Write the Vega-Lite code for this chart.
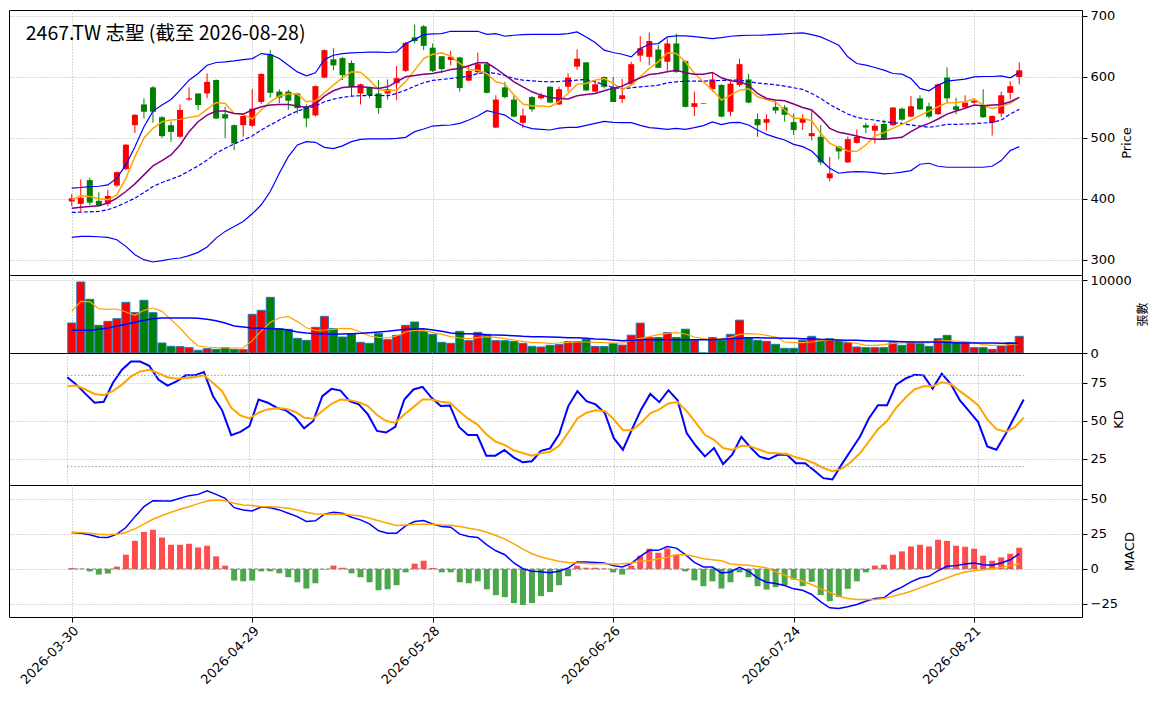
{
  "$schema": "https://vega.github.io/schema/vega-lite/v6.json",
  "padding": {"left": 8, "top": 9, "right": 0, "bottom": 0},
  "background": "white",
  "spacing": 0,
  "bounds": "flush",
  "config": {
    "view": {"stroke": "black", "strokeWidth": 1},
    "font": "DejaVu Sans",
    "axis": {
      "labelFont": "DejaVu Sans", "titleFont": "DejaVu Sans", "labelFontSize": 13, "titleFontSize": 13,
      "titleFontWeight": "normal", "labelColor": "black", "titleColor": "black", "tickColor": "black",
      "gridColor": "#b0b0b0", "gridDash": [1, 2], "gridWidth": 1, "domain": false
    }
  },
  "data": {"values": [
    {"i":0,"o":396,"h":408,"l":388,"c":401,"v":4110,"vm5":5708,"vm20":3105,"ma5":398.6,"ma10":385.0,"mid":377.9,"up":417.7,"lo":337.0,"k":78.7,"d":72.8,"dif":26.1,"dea":26.1,"hist":0.7},
    {"i":1,"o":392,"h":432,"l":380,"c":402,"v":9726,"vm5":7078,"vm20":3105,"ma5":405.2,"ma10":386.6,"mid":378.5,"up":418.8,"lo":338.7,"k":73.9,"d":73.3,"dif":25.6,"dea":26.1,"hist":0.2},
    {"i":2,"o":431,"h":435,"l":390,"c":394,"v":7352,"vm5":7032,"vm20":3105,"ma5":404.1,"ma10":387.7,"mid":379.0,"up":420.4,"lo":338.7,"k":67.8,"d":70.7,"dif":24.4,"dea":25.6,"hist":-1.7},
    {"i":3,"o":397,"h":411,"l":387,"c":389,"v":3790,"vm5":6073,"vm20":3242,"ma5":400.3,"ma10":388.8,"mid":379.6,"up":420.9,"lo":338.1,"k":62.0,"d":67.8,"dif":22.7,"dea":24.9,"hist":-4.0},
    {"i":4,"o":392,"h":415,"l":388,"c":405,"v":4338,"vm5":5982,"vm20":3425,"ma5":398.6,"ma10":393.2,"mid":382.3,"up":423.1,"lo":337.0,"k":62.6,"d":67.0,"dif":22.5,"dea":24.4,"hist":-3.3},
    {"i":5,"o":422,"h":445,"l":420,"c":444,"v":4703,"vm5":6027,"vm20":3699,"ma5":406.8,"ma10":401.4,"mid":387.7,"up":434.1,"lo":333.2,"k":75.0,"d":69.6,"dif":24.9,"dea":24.9,"hist":1.7},
    {"i":6,"o":449,"h":490,"l":447,"c":489,"v":6941,"vm5":5616,"vm20":3927,"ma5":434.1,"ma10":412.3,"mid":394.3,"up":455.9,"lo":322.3,"k":83.7,"d":73.9,"dif":29.6,"dea":26.1,"hist":10.2},
    {"i":7,"o":521,"h":539,"l":508,"c":538,"v":5525,"vm5":5160,"vm20":4201,"ma5":469.5,"ma10":424.8,"mid":401.4,"up":485.8,"lo":308.6,"k":89.1,"d":79.3,"dif":37.4,"dea":28.7,"hist":20.1},
    {"i":8,"o":555,"h":565,"l":532,"c":543,"v":7215,"vm5":5845,"vm20":4475,"ma5":499.5,"ma10":439.5,"mid":410.6,"up":518.5,"lo":300.5,"k":89.1,"d":82.6,"dif":44.5,"dea":32.0,"hist":26.5},
    {"i":9,"o":583,"h":585,"l":525,"c":543,"v":5525,"vm5":6164,"vm20":4703,"ma5":515.8,"ma10":454.2,"mid":420.4,"up":544.1,"lo":296.7,"k":86.3,"d":83.7,"dif":48.8,"dea":35.5,"hist":28.0},
    {"i":10,"o":534,"h":536,"l":500,"c":503,"v":1370,"vm5":5708,"vm20":4795,"ma5":526.7,"ma10":462.9,"mid":427.0,"up":554.0,"lo":298.9,"k":77.2,"d":81.5,"dif":48.6,"dea":38.2,"hist":22.5},
    {"i":11,"o":521,"h":527,"l":494,"c":510,"v":913,"vm5":4566,"vm20":4795,"ma5":529.4,"ma10":472.2,"mid":432.4,"up":563.2,"lo":301.6,"k":73.3,"d":78.7,"dif":48.6,"dea":40.5,"hist":17.3},
    {"i":12,"o":502,"h":555,"l":500,"c":546,"v":868,"vm5":3425,"vm20":4795,"ma5":530.5,"ma10":488.6,"mid":437.9,"up":578.5,"lo":303.3,"k":76.1,"d":77.8,"dif":50.5,"dea":42.7,"hist":17.3},
    {"i":13,"o":563,"h":583,"l":561,"c":565,"v":731,"vm5":2055,"vm20":4795,"ma5":533.8,"ma10":510.4,"mid":446.0,"up":594.8,"lo":307.1,"k":80.0,"d":78.3,"dif":52.4,"dea":44.5,"hist":18.0},
    {"i":14,"o":573,"h":573,"l":546,"c":554,"v":365,"vm5":959,"vm20":4749,"ma5":536.0,"ma10":526.7,"mid":454.2,"up":605.7,"lo":312.5,"k":80.0,"d":78.7,"dif":53.3,"dea":46.7,"hist":15.4},
    {"i":15,"o":573,"h":606,"l":565,"c":592,"v":594,"vm5":822,"vm20":4612,"ma5":546.9,"ma10":537.6,"mid":464.0,"up":619.3,"lo":321.3,"k":82.2,"d":80.0,"dif":55.9,"dea":48.6,"hist":16.6},
    {"i":16,"o":595,"h":596,"l":531,"c":532,"v":502,"vm5":731,"vm20":4429,"ma5":558.3,"ma10":544.1,"mid":474.9,"up":623.7,"lo":335.9,"k":66.3,"d":75.0,"dif":53.3,"dea":49.3,"hist":9.0},
    {"i":17,"o":539,"h":551,"l":500,"c":532,"v":731,"vm5":685,"vm20":4110,"ma5":556.7,"ma10":544.1,"mid":483.1,"up":624.8,"lo":346.9,"k":57.0,"d":69.6,"dif":50.5,"dea":48.8,"hist":2.4},
    {"i":18,"o":521,"h":522,"l":480,"c":491,"v":502,"vm5":685,"vm20":3699,"ma5":540.3,"ma10":540.3,"mid":490.2,"up":626.4,"lo":355.0,"k":40.7,"d":58.7,"dif":43.8,"dea":46.9,"hist":-8.3},
    {"i":19,"o":521,"h":537,"l":502,"c":536,"v":457,"vm5":685,"vm20":3562,"ma5":538.7,"ma10":539.2,"mid":496.7,"up":628.6,"lo":363.2,"k":42.8,"d":53.7,"dif":42.2,"dea":45.7,"hist":-8.8},
    {"i":20,"o":520,"h":580,"l":518,"c":548,"v":5297,"vm5":1700,"vm20":3425,"ma5":531.1,"ma10":545.8,"mid":503.3,"up":630.2,"lo":375.7,"k":46.7,"d":51.7,"dif":41.5,"dea":45.3,"hist":-8.3},
    {"i":21,"o":559,"h":606,"l":556,"c":605,"v":5845,"vm5":3000,"vm20":3379,"ma5":545.8,"ma10":551.2,"mid":513.1,"up":638.4,"lo":390.5,"k":64.1,"d":55.4,"dif":44.3,"dea":44.5,"hist":-1.7},
    {"i":22,"o":637,"h":644,"l":566,"c":574,"v":7626,"vm5":4200,"vm20":3333,"ma5":559.4,"ma10":553.9,"mid":521.3,"up":636.8,"lo":412.3,"k":62.0,"d":57.6,"dif":43.8,"dea":44.5,"hist":-1.7},
    {"i":23,"o":576,"h":580,"l":557,"c":566,"v":3333,"vm5":4800,"vm20":3288,"ma5":568.7,"ma10":555.0,"mid":529.4,"up":630.2,"lo":442.2,"k":58.7,"d":58.3,"dif":42.2,"dea":44.1,"hist":-3.1},
    {"i":24,"o":576,"h":579,"l":546,"c":561,"v":3242,"vm5":5000,"vm20":3150,"ma5":571.9,"ma10":555.0,"mid":537.1,"up":619.3,"lo":469.5,"k":57.0,"d":58.0,"dif":39.8,"dea":43.4,"hist":-5.9},
    {"i":25,"o":573,"h":574,"l":540,"c":549,"v":2009,"vm5":4300,"vm20":2877,"ma5":571.9,"ma10":552.3,"mid":544.1,"up":608.4,"lo":488.6,"k":52.6,"d":56.1,"dif":37.4,"dea":42.2,"hist":-9.5},
    {"i":26,"o":552,"h":555,"l":518,"c":532,"v":1735,"vm5":3450,"vm20":2740,"ma5":559.4,"ma10":550.1,"mid":548.5,"up":601.9,"lo":494.0,"k":45.2,"d":52.2,"dif":33.9,"dea":40.5,"hist":-14.0},
    {"i":27,"o":537,"h":586,"l":535,"c":585,"v":3516,"vm5":3105,"vm20":2648,"ma5":561.0,"ma10":555.6,"mid":552.3,"up":606.8,"lo":492.9,"k":50.0,"d":51.5,"dif":34.4,"dea":39.3,"hist":-10.2},
    {"i":28,"o":599,"h":645,"l":598,"c":644,"v":5023,"vm5":3150,"vm20":2603,"ma5":574.1,"ma10":568.7,"mid":559.4,"up":628.6,"lo":484.7,"k":66.3,"d":56.5,"dif":39.1,"dea":39.1,"hist":-0.3},
    {"i":29,"o":629,"h":647,"l":611,"c":619,"v":3333,"vm5":3242,"vm20":2557,"ma5":586.7,"ma10":577.4,"mid":563.8,"up":635.7,"lo":482.6,"k":71.1,"d":61.3,"dif":40.5,"dea":39.3,"hist":2.4},
    {"i":30,"o":631,"h":633,"l":595,"c":603,"v":2192,"vm5":3379,"vm20":2603,"ma5":598.6,"ma10":582.8,"mid":566.5,"up":638.4,"lo":487.0,"k":70.0,"d":64.1,"dif":39.8,"dea":39.1,"hist":0.9},
    {"i":31,"o":623,"h":627,"l":568,"c":583,"v":2648,"vm5":3333,"vm20":2648,"ma5":608.4,"ma10":583.9,"mid":568.7,"up":639.5,"lo":494.0,"k":63.0,"d":63.7,"dif":37.0,"dea":38.6,"hist":-3.1},
    {"i":32,"o":573,"h":589,"l":555,"c":588,"v":1461,"vm5":2877,"vm20":2694,"ma5":607.9,"ma10":583.9,"mid":569.2,"up":640.1,"lo":497.8,"k":60.9,"d":62.4,"dif":35.1,"dea":37.9,"hist":-5.9},
    {"i":33,"o":583,"h":584,"l":565,"c":570,"v":1324,"vm5":2329,"vm20":2785,"ma5":594.8,"ma10":582.8,"mid":569.8,"up":640.6,"lo":498.4,"k":54.3,"d":59.8,"dif":32.2,"dea":36.3,"hist":-9.5},
    {"i":34,"o":573,"h":595,"l":540,"c":549,"v":2648,"vm5":2146,"vm20":2877,"ma5":579.6,"ma10":581.2,"mid":569.8,"up":640.6,"lo":498.4,"k":43.5,"d":53.9,"dif":27.3,"dea":34.4,"hist":-15.2},
    {"i":35,"o":573,"h":596,"l":563,"c":580,"v":1826,"vm5":2055,"vm20":2968,"ma5":577.4,"ma10":583.9,"mid":569.2,"up":640.1,"lo":498.4,"k":42.4,"d":50.0,"dif":25.6,"dea":32.7,"hist":-14.5},
    {"i":36,"o":590,"h":618,"l":562,"c":598,"v":2420,"vm5":2329,"vm20":3105,"ma5":578.5,"ma10":592.1,"mid":573.0,"up":641.1,"lo":499.5,"k":46.1,"d":48.9,"dif":25.6,"dea":31.0,"hist":-11.6},
    {"i":37,"o":610,"h":657,"l":608,"c":656,"v":3790,"vm5":2877,"vm20":3242,"ma5":592.1,"ma10":600.3,"mid":578.5,"up":654.8,"lo":501.1,"k":64.1,"d":54.3,"dif":30.8,"dea":31.5,"hist":-2.4},
    {"i":38,"o":665,"h":686,"l":655,"c":659,"v":4247,"vm5":3105,"vm20":3288,"ma5":611.2,"ma10":602.5,"mid":585.0,"up":661.3,"lo":510.4,"k":70.7,"d":59.1,"dif":33.9,"dea":32.0,"hist":3.8},
    {"i":39,"o":683,"h":685,"l":644,"c":651,"v":2968,"vm5":3105,"vm20":3333,"ma5":630.2,"ma10":604.6,"mid":590.5,"up":669.5,"lo":514.7,"k":72.4,"d":64.1,"dif":34.6,"dea":32.0,"hist":5.9},
    {"i":40,"o":648,"h":655,"l":608,"c":610,"v":2557,"vm5":2785,"vm20":3150,"ma5":637.3,"ma10":605.7,"mid":594.3,"up":670.6,"lo":519.6,"k":65.2,"d":64.1,"dif":32.2,"dea":32.0,"hist":0.7},
    {"i":41,"o":634,"h":634,"l":606,"c":613,"v":1461,"vm5":2557,"vm20":2968,"ma5":639.5,"ma10":608.4,"mid":595.9,"up":671.1,"lo":520.7,"k":59.8,"d":62.6,"dif":30.3,"dea":31.5,"hist":-2.4},
    {"i":42,"o":628,"h":643,"l":619,"c":633,"v":1324,"vm5":2237,"vm20":2740,"ma5":634.1,"ma10":612.3,"mid":597.5,"up":674.9,"lo":521.3,"k":60.2,"d":62.0,"dif":29.9,"dea":31.3,"hist":-2.4},
    {"i":43,"o":632,"h":633,"l":576,"c":582,"v":2968,"vm5":2055,"vm20":2648,"ma5":622.1,"ma10":613.9,"mid":599.2,"up":674.9,"lo":524.0,"k":46.1,"d":56.5,"dif":24.9,"dea":30.3,"hist":-9.5},
    {"i":44,"o":594,"h":619,"l":593,"c":610,"v":1689,"vm5":1963,"vm20":2648,"ma5":612.3,"ma10":618.3,"mid":601.4,"up":674.9,"lo":529.4,"k":40.7,"d":51.5,"dif":23.2,"dea":29.1,"hist":-10.2},
    {"i":45,"o":608,"h":640,"l":605,"c":621,"v":2831,"vm5":2100,"vm20":2603,"ma5":611.2,"ma10":623.2,"mid":605.7,"up":674.9,"lo":536.0,"k":40.7,"d":47.8,"dif":22.5,"dea":28.0,"hist":-8.8},
    {"i":46,"o":621,"h":625,"l":573,"c":574,"v":2557,"vm5":2237,"vm20":2511,"ma5":605.7,"ma10":623.2,"mid":607.4,"up":670.0,"lo":544.7,"k":27.2,"d":41.3,"dif":17.3,"dea":26.3,"hist":-14.5},
    {"i":47,"o":517,"h":570,"l":516,"c":563,"v":1689,"vm5":2146,"vm20":2466,"ma5":592.1,"ma10":613.9,"mid":605.7,"up":671.1,"lo":541.4,"k":27.2,"d":36.5,"dif":13.0,"dea":23.9,"hist":-18.7},
    {"i":48,"o":583,"h":592,"l":565,"c":567,"v":1689,"vm5":1963,"vm20":2420,"ma5":588.3,"ma10":603.0,"mid":602.5,"up":666.8,"lo":537.6,"k":30.9,"d":34.3,"dif":10.2,"dea":21.3,"hist":-20.1},
    {"i":49,"o":563,"h":570,"l":534,"c":535,"v":1598,"vm5":1781,"vm20":2374,"ma5":570.3,"ma10":592.1,"mid":597.5,"up":668.4,"lo":527.8,"k":26.1,"d":30.7,"dif":4.3,"dea":18.0,"hist":-24.4},
    {"i":50,"o":525,"h":548,"l":516,"c":537,"v":1324,"vm5":1598,"vm20":2283,"ma5":555.6,"ma10":583.9,"mid":594.8,"up":669.5,"lo":519.6,"k":22.8,"d":28.9,"dif":0.2,"dea":14.2,"hist":-25.8},
    {"i":51,"o":567,"h":569,"l":543,"c":547,"v":913,"vm5":1416,"vm20":2237,"ma5":552.3,"ma10":575.7,"mid":593.7,"up":670.0,"lo":515.3,"k":23.5,"d":27.2,"dif":-1.7,"dea":10.9,"hist":-24.4},
    {"i":52,"o":565,"h":574,"l":563,"c":570,"v":822,"vm5":1415,"vm20":2237,"ma5":552.3,"ma10":570.3,"mid":592.6,"up":670.0,"lo":514.2,"k":30.4,"d":28.7,"dif":-1.9,"dea":8.6,"hist":-19.4},
    {"i":53,"o":584,"h":585,"l":557,"c":558,"v":1050,"vm5":1324,"vm20":2192,"ma5":551.2,"ma10":566.5,"mid":592.1,"up":670.0,"lo":513.1,"k":32.0,"d":29.8,"dif":-2.6,"dea":7.0,"hist":-16.5},
    {"i":54,"o":555,"h":584,"l":554,"c":580,"v":1150,"vm5":1370,"vm20":2146,"ma5":559.4,"ma10":564.8,"mid":592.6,"up":670.0,"lo":516.3,"k":41.3,"d":33.7,"dif":-1.7,"dea":5.5,"hist":-11.6},
    {"i":55,"o":584,"h":606,"l":576,"c":599,"v":1550,"vm5":1461,"vm20":2100,"ma5":573.0,"ma10":563.8,"mid":593.7,"up":671.1,"lo":517.4,"k":59.8,"d":42.4,"dif":0.7,"dea":4.7,"hist":-5.2},
    {"i":56,"o":617,"h":645,"l":612,"c":630,"v":1550,"vm5":1507,"vm20":2100,"ma5":588.3,"ma10":569.2,"mid":594.8,"up":673.8,"lo":517.4,"k":69.6,"d":51.7,"dif":5.0,"dea":4.3,"hist":2.4},
    {"i":57,"o":624,"h":624,"l":577,"c":578,"v":1850,"vm5":1507,"vm20":2009,"ma5":589.4,"ma10":571.4,"mid":595.9,"up":665.7,"lo":520.7,"k":63.0,"d":55.4,"dif":5.0,"dea":4.0,"hist":0.9},
    {"i":58,"o":576,"h":594,"l":575,"c":588,"v":900,"vm5":1461,"vm20":1918,"ma5":594.8,"ma10":573.0,"mid":592.1,"up":656.4,"lo":524.0,"k":60.9,"d":57.0,"dif":4.7,"dea":3.8,"hist":0.9},
    {"i":59,"o":600,"h":601,"l":581,"c":584,"v":900,"vm5":1415,"vm20":1872,"ma5":597.5,"ma10":577.4,"mid":587.2,"up":643.9,"lo":527.2,"k":55.4,"d":56.5,"dif":4.3,"dea":3.8,"hist":0.3},
    {"i":60,"o":583,"h":600,"l":559,"c":559,"v":1300,"vm5":1370,"vm20":1781,"ma5":589.4,"ma10":581.7,"mid":582.8,"up":640.1,"lo":525.6,"k":38.7,"d":51.1,"dif":2.4,"dea":3.6,"hist":-2.4},
    {"i":61,"o":564,"h":597,"l":557,"c":570,"v":1080,"vm5":1370,"vm20":1689,"ma5":579.6,"ma10":585.0,"mid":580.1,"up":637.3,"lo":525.1,"k":31.1,"d":43.9,"dif":1.4,"dea":3.8,"hist":-4.0},
    {"i":62,"o":588,"h":625,"l":587,"c":621,"v":2440,"vm5":1735,"vm20":1735,"ma5":586.7,"ma10":592.1,"mid":582.3,"up":633.0,"lo":525.1,"k":44.6,"d":43.9,"dif":3.8,"dea":4.3,"hist":2.4},
    {"i":63,"o":635,"h":667,"l":625,"c":647,"v":4090,"vm5":2009,"vm20":1826,"ma5":600.3,"ma10":598.6,"mid":583.9,"up":646.6,"lo":520.7,"k":57.6,"d":48.9,"dif":9.0,"dea":5.5,"hist":9.5},
    {"i":64,"o":633,"h":673,"l":619,"c":659,"v":2120,"vm5":2237,"vm20":1826,"ma5":613.9,"ma10":604.1,"mid":585.0,"up":653.7,"lo":516.9,"k":67.8,"d":55.0,"dif":13.3,"dea":5.9,"hist":14.5},
    {"i":65,"o":645,"h":652,"l":615,"c":615,"v":2120,"vm5":2511,"vm20":1826,"ma5":624.8,"ma10":605.7,"mid":586.7,"up":654.8,"lo":515.8,"k":62.4,"d":57.6,"dif":13.3,"dea":7.3,"hist":11.6},
    {"i":66,"o":625,"h":663,"l":610,"c":655,"v":2800,"vm5":2694,"vm20":1826,"ma5":639.5,"ma10":608.4,"mid":590.5,"up":665.7,"lo":514.2,"k":70.2,"d":61.5,"dif":16.1,"dea":8.3,"hist":14.7},
    {"i":67,"o":655,"h":671,"l":607,"c":608,"v":2120,"vm5":2785,"vm20":1826,"ma5":638.4,"ma10":611.2,"mid":592.1,"up":667.3,"lo":515.8,"k":63.7,"d":62.4,"dif":14.9,"dea":10.2,"hist":10.2},
    {"i":68,"o":626,"h":627,"l":550,"c":551,"v":3260,"vm5":2603,"vm20":1826,"ma5":624.8,"ma10":606.8,"mid":593.2,"up":667.3,"lo":514.2,"k":42.0,"d":56.5,"dif":10.2,"dea":10.2,"hist":-1.7},
    {"i":69,"o":551,"h":576,"l":536,"c":557,"v":1760,"vm5":2192,"vm20":1826,"ma5":605.7,"ma10":604.6,"mid":593.2,"up":666.2,"lo":516.9,"k":33.7,"d":48.9,"dif":4.7,"dea":9.0,"hist":-8.1},
    {"i":70,"o":557,"h":557,"l":556,"c":556,"v":0,"vm5":1963,"vm20":1826,"ma5":592.1,"ma10":604.6,"mid":593.2,"up":664.6,"lo":520.2,"k":26.7,"d":40.9,"dif":1.4,"dea":7.3,"hist":-12.3},
    {"i":71,"o":580,"h":606,"l":576,"c":596,"v":2120,"vm5":1826,"vm20":1826,"ma5":578.5,"ma10":607.4,"mid":593.7,"up":662.9,"lo":526.2,"k":32.2,"d":37.6,"dif":1.4,"dea":6.6,"hist":-8.8},
    {"i":72,"o":587,"h":588,"l":534,"c":535,"v":1760,"vm5":1963,"vm20":1872,"ma5":562.1,"ma10":598.6,"mid":594.3,"up":664.6,"lo":521.8,"k":21.7,"d":32.2,"dif":-2.8,"dea":5.9,"hist":-14.0},
    {"i":73,"o":543,"h":593,"l":536,"c":589,"v":2557,"vm5":2146,"vm20":1963,"ma5":570.3,"ma10":593.7,"mid":594.8,"up":666.8,"lo":525.1,"k":27.8,"d":30.9,"dif":-2.1,"dea":3.6,"hist":-9.5},
    {"i":74,"o":587,"h":630,"l":584,"c":621,"v":4500,"vm5":2557,"vm20":2009,"ma5":578.5,"ma10":592.1,"mid":594.8,"up":667.8,"lo":525.6,"k":39.6,"d":33.7,"dif":1.2,"dea":3.1,"hist":-2.4},
    {"i":75,"o":596,"h":605,"l":557,"c":558,"v":2100,"vm5":2648,"vm20":2100,"ma5":580.7,"ma10":586.7,"mid":592.6,"up":668.4,"lo":521.3,"k":32.6,"d":33.3,"dif":-1.7,"dea":2.6,"hist":-5.9},
    {"i":76,"o":531,"h":540,"l":502,"c":521,"v":1735,"vm5":2603,"vm20":2100,"ma5":567.6,"ma10":573.0,"mid":589.9,"up":668.4,"lo":513.1,"k":26.5,"d":31.1,"dif":-6.4,"dea":1.7,"hist":-12.3},
    {"i":77,"o":525,"h":539,"l":512,"c":531,"v":1598,"vm5":2420,"vm20":2055,"ma5":563.2,"ma10":564.8,"mid":588.8,"up":668.9,"lo":506.0,"k":24.8,"d":28.9,"dif":-9.5,"dea":0.7,"hist":-14.7},
    {"i":78,"o":551,"h":562,"l":540,"c":545,"v":1187,"vm5":2192,"vm20":2055,"ma5":558.9,"ma10":562.1,"mid":587.2,"up":670.0,"lo":501.1,"k":27.8,"d":28.7,"dif":-10.4,"dea":-2.1,"hist":-13.0},
    {"i":79,"o":550,"h":554,"l":527,"c":538,"v":639,"vm5":1507,"vm20":2009,"ma5":545.8,"ma10":561.0,"mid":585.0,"up":670.6,"lo":496.7,"k":27.8,"d":28.3,"dif":-11.8,"dea":-4.5,"hist":-11.6},
    {"i":80,"o":526,"h":540,"l":505,"c":513,"v":639,"vm5":1415,"vm20":2009,"ma5":532.2,"ma10":555.6,"mid":582.3,"up":671.7,"lo":489.6,"k":22.2,"d":26.1,"dif":-14.2,"dea":-6.9,"hist":-7.6},
    {"i":81,"o":525,"h":539,"l":513,"c":532,"v":1735,"vm5":1415,"vm20":1963,"ma5":532.2,"ma10":550.1,"mid":579.6,"up":672.2,"lo":485.8,"k":22.2,"d":24.6,"dif":-15.2,"dea":-8.8,"hist":-12.3},
    {"i":82,"o":503,"h":546,"l":496,"c":508,"v":2283,"vm5":1507,"vm20":1963,"ma5":528.3,"ma10":545.8,"mid":573.0,"up":669.5,"lo":478.7,"k":17.4,"d":22.2,"dif":-18.2,"dea":-11.1,"hist":-9.2},
    {"i":83,"o":502,"h":521,"l":456,"c":460,"v":1735,"vm5":1689,"vm20":1872,"ma5":507.6,"ma10":532.2,"mid":564.8,"up":665.7,"lo":464.0,"k":12.4,"d":19.1,"dif":-23.5,"dea":-14.2,"hist":-18.7},
    {"i":84,"o":434,"h":469,"l":429,"c":442,"v":1963,"vm5":1735,"vm20":1826,"ma5":491.3,"ma10":515.8,"mid":555.0,"up":659.1,"lo":450.4,"k":11.5,"d":17.0,"dif":-27.7,"dea":-16.6,"hist":-23.0},
    {"i":85,"o":486,"h":487,"l":465,"c":478,"v":1735,"vm5":1735,"vm20":1781,"ma5":484.7,"ma10":509.3,"mid":546.9,"up":652.0,"lo":442.2,"k":21.3,"d":18.5,"dif":-28.2,"dea":-19.4,"hist":-20.1},
    {"i":86,"o":460,"h":502,"l":459,"c":498,"v":1416,"vm5":1507,"vm20":1735,"ma5":478.7,"ma10":506.5,"mid":539.2,"up":633.0,"lo":443.9,"k":30.4,"d":22.8,"dif":-27.0,"dea":-21.1,"hist":-14.2},
    {"i":87,"o":492,"h":514,"l":491,"c":502,"v":822,"vm5":1324,"vm20":1735,"ma5":477.7,"ma10":503.3,"mid":533.8,"up":622.1,"lo":445.0,"k":39.4,"d":28.6,"dif":-25.4,"dea":-21.8,"hist":-8.8},
    {"i":88,"o":521,"h":525,"l":508,"c":517,"v":731,"vm5":1050,"vm20":1689,"ma5":488.6,"ma10":499.5,"mid":531.1,"up":619.3,"lo":444.4,"k":51.6,"d":36.5,"dif":-23.0,"dea":-21.8,"hist":-2.4},
    {"i":89,"o":512,"h":524,"l":491,"c":520,"v":731,"vm5":1050,"vm20":1644,"ma5":503.3,"ma10":497.8,"mid":529.4,"up":615.5,"lo":443.3,"k":60.4,"d":44.6,"dif":-21.1,"dea":-21.8,"hist":2.4},
    {"i":90,"o":523,"h":530,"l":497,"c":498,"v":731,"vm5":1142,"vm20":1644,"ma5":508.7,"ma10":497.8,"mid":526.7,"up":611.2,"lo":441.1,"k":60.4,"d":50.0,"dif":-20.6,"dea":-21.1,"hist":3.1},
    {"i":91,"o":521,"h":550,"l":520,"c":550,"v":1416,"vm5":1324,"vm20":1598,"ma5":515.8,"ma10":499.5,"mid":525.1,"up":605.7,"lo":442.2,"k":73.9,"d":58.7,"dif":-15.9,"dea":-19.4,"hist":10.2},
    {"i":92,"o":548,"h":550,"l":528,"c":530,"v":1050,"vm5":1370,"vm20":1552,"ma5":522.3,"ma10":501.1,"mid":524.0,"up":604.6,"lo":443.9,"k":77.8,"d":65.2,"dif":-13.0,"dea":-17.8,"hist":12.6},
    {"i":93,"o":535,"h":569,"l":534,"c":552,"v":1507,"vm5":1415,"vm20":1507,"ma5":529.4,"ma10":510.4,"mid":521.3,"up":597.5,"lo":446.6,"k":80.4,"d":70.7,"dif":-9.2,"dea":-15.9,"hist":16.1},
    {"i":94,"o":565,"h":570,"l":546,"c":547,"v":1279,"vm5":1415,"vm20":1507,"ma5":537.1,"ma10":518.5,"mid":519.6,"up":581.2,"lo":457.0,"k":80.0,"d":72.8,"dif":-6.4,"dea":-13.5,"hist":17.3},
    {"i":95,"o":552,"h":558,"l":532,"c":535,"v":913,"vm5":1370,"vm20":1507,"ma5":544.1,"ma10":524.0,"mid":517.4,"up":577.4,"lo":458.6,"k":71.3,"d":72.8,"dif":-5.2,"dea":-11.1,"hist":16.1},
    {"i":96,"o":539,"h":589,"l":538,"c":588,"v":1963,"vm5":1644,"vm20":1507,"ma5":551.2,"ma10":531.1,"mid":519.6,"up":586.7,"lo":453.7,"k":81.1,"d":75.4,"dif":-1.2,"dea":-8.8,"hist":20.9},
    {"i":97,"o":599,"h":616,"l":559,"c":565,"v":2420,"vm5":1689,"vm20":1461,"ma5":557.8,"ma10":539.2,"mid":522.3,"up":593.2,"lo":452.0,"k":74.3,"d":74.3,"dif":1.9,"dea":-6.4,"hist":20.1},
    {"i":98,"o":552,"h":566,"l":539,"c":546,"v":1416,"vm5":1644,"vm20":1415,"ma5":558.3,"ma10":544.1,"mid":522.3,"up":594.8,"lo":452.0,"k":63.5,"d":69.6,"dif":2.4,"dea":-4.0,"hist":16.6},
    {"i":99,"o":550,"h":570,"l":549,"c":558,"v":1416,"vm5":1552,"vm20":1370,"ma5":559.4,"ma10":548.5,"mid":522.9,"up":596.5,"lo":452.0,"k":56.5,"d":65.2,"dif":3.6,"dea":-2.1,"hist":15.9},
    {"i":100,"o":558,"h":565,"l":556,"c":561,"v":731,"vm5":1415,"vm20":1370,"ma5":564.3,"ma10":554.0,"mid":523.4,"up":600.3,"lo":452.0,"k":49.3,"d":60.4,"dif":4.3,"dea":-1.2,"hist":14.5},
    {"i":101,"o":554,"h":580,"l":533,"c":534,"v":731,"vm5":1142,"vm20":1370,"ma5":554.0,"ma10":552.9,"mid":524.5,"up":600.8,"lo":452.0,"k":33.3,"d":51.1,"dif":3.1,"dea":-0.5,"hist":9.5},
    {"i":102,"o":525,"h":537,"l":504,"c":536,"v":502,"vm5":1050,"vm20":1370,"ma5":548.0,"ma10":554.0,"mid":525.6,"up":600.8,"lo":453.7,"k":31.1,"d":44.6,"dif":2.6,"dea":0.2,"hist":5.9},
    {"i":103,"o":540,"h":576,"l":534,"c":570,"v":959,"vm5":1050,"vm20":1324,"ma5":552.3,"ma10":555.0,"mid":529.4,"up":601.9,"lo":462.9,"k":41.3,"d":43.0,"dif":4.3,"dea":1.2,"hist":8.3},
    {"i":104,"o":574,"h":593,"l":563,"c":585,"v":1416,"vm5":1142,"vm20":1324,"ma5":556.7,"ma10":559.4,"mid":539.2,"up":598.6,"lo":479.3,"k":52.8,"d":45.7,"dif":6.6,"dea":2.4,"hist":10.9},
    {"i":105,"o":600,"h":624,"l":588,"c":611,"v":2283,"vm5":1279,"vm20":1279,"ma5":566.5,"ma10":566.5,"mid":546.9,"up":607.4,"lo":485.8,"k":64.1,"d":52.2,"dif":10.9,"dea":3.6,"hist":15.2}
  ]},
  "vconcat": [
    {
      "width": 1073,
      "height": 265,
      "layer": [
        {
          "mark": {"type": "rule", "strokeWidth": 1},
          "encoding": {
            "x": {"field": "i", "type": "quantitative", "scale": {"domain": [-6.4, 111.4], "nice": false, "zero": false},
                  "axis": {"values": [0, 20, 40, 60, 80, 100], "labels": false, "ticks": false, "title": null, "grid": true}},
            "y": {"field": "l", "type": "quantitative", "scale": {"domain": [275.4, 709.8], "nice": false, "zero": false},
                  "axis": {"orient": "right", "values": [300, 350, 400, 450, 500, 550, 600, 650, 700], "title": "Price", "titleAngle": 270, "titleBaseline": "top", "titlePadding": 6, "tickSize": 5, "labelPadding": 3, "grid": true}},
            "y2": {"field": "h"},
            "color": {"condition": {"test": "datum.c >= datum.o", "value": "red"}, "value": "green"}
          }
        },
        {
          "mark": {"type": "bar", "width": 6},
          "encoding": {
            "x": {"field": "i", "type": "quantitative"},
            "y": {"field": "o", "type": "quantitative", "axis": {"orient": "right"}},
            "y2": {"field": "c"},
            "color": {"condition": {"test": "datum.c >= datum.o", "value": "red"}, "value": "green"}
          }
        },
        {
          "mark": {"type": "line", "color": "blue", "strokeWidth": 1.2},
          "encoding": {
            "x": {"field": "i", "type": "quantitative"},
            "y": {"field": "up", "type": "quantitative", "axis": {"orient": "right"}}
          }
        },
        {
          "mark": {"type": "line", "color": "blue", "strokeWidth": 1.2},
          "encoding": {
            "x": {"field": "i", "type": "quantitative"},
            "y": {"field": "lo", "type": "quantitative", "axis": {"orient": "right"}}
          }
        },
        {
          "mark": {"type": "line", "color": "blue", "strokeWidth": 1.2, "strokeDash": [4, 2]},
          "encoding": {
            "x": {"field": "i", "type": "quantitative"},
            "y": {"field": "mid", "type": "quantitative", "axis": {"orient": "right"}}
          }
        },
        {
          "mark": {"type": "line", "color": "orange", "strokeWidth": 1.5},
          "encoding": {
            "x": {"field": "i", "type": "quantitative"},
            "y": {"field": "ma5", "type": "quantitative", "axis": {"orient": "right"}}
          }
        },
        {
          "mark": {"type": "line", "color": "purple", "strokeWidth": 1.5},
          "encoding": {
            "x": {"field": "i", "type": "quantitative"},
            "y": {"field": "ma10", "type": "quantitative", "axis": {"orient": "right"}}
          }
        },
        {
          "data": {"values": [{}]},
          "mark": {"type": "text", "text": "2467.TW 志聖 (截至 2026-08-28)", "align": "left", "baseline": "alphabetic", "font": "Noto Sans CJK TC", "fontSize": 19.5, "fontWeight": "normal", "color": "black"},
          "encoding": {"x": {"datum": -5.1}, "y": {"datum": 660.5}}
        }
      ]
    },
    {
      "width": 1073,
      "height": 78,
      "layer": [
        {
          "mark": {"type": "bar", "width": 8, "stroke": "#1f77b4", "strokeWidth": 1},
          "encoding": {
            "x": {"field": "i", "type": "quantitative", "scale": {"domain": [-6.4, 111.4], "nice": false, "zero": false},
                  "axis": {"values": [0, 20, 40, 60, 80, 100], "labels": false, "ticks": false, "title": null, "grid": true}},
            "y": {"field": "v", "type": "quantitative", "scale": {"domain": [0, 10685], "nice": false},
                  "axis": {"orient": "right", "values": [0, 10000], "format": "d", "title": "張數", "titleFont": "Noto Sans CJK TC", "titleFontSize": 12, "titleAngle": 270, "titleBaseline": "top", "titlePadding": 6, "tickSize": 5, "labelPadding": 3, "grid": true}},
            "color": {"condition": {"test": "datum.c >= datum.o", "value": "red"}, "value": "green"}
          }
        },
        {
          "mark": {"type": "line", "color": "orange", "strokeWidth": 1.2},
          "encoding": {
            "x": {"field": "i", "type": "quantitative"},
            "y": {"field": "vm5", "type": "quantitative", "axis": {"orient": "right"}}
          }
        },
        {
          "mark": {"type": "line", "color": "blue", "strokeWidth": 1.5},
          "encoding": {
            "x": {"field": "i", "type": "quantitative"},
            "y": {"field": "vm20", "type": "quantitative", "axis": {"orient": "right"}}
          }
        }
      ]
    },
    {
      "width": 1073,
      "height": 132,
      "layer": [
        {
          "mark": {"type": "line", "color": "blue", "strokeWidth": 2},
          "encoding": {
            "x": {"field": "i", "type": "quantitative", "scale": {"domain": [-6.4, 111.4], "nice": false, "zero": false},
                  "axis": {"values": [0, 20, 40, 60, 80, 100], "labels": false, "ticks": false, "title": null, "grid": true}},
            "y": {"field": "k", "type": "quantitative", "scale": {"domain": [7.9, 94.7], "nice": false, "zero": false},
                  "axis": {"orient": "right", "values": [25, 50, 75], "title": "KD", "titleAngle": 270, "titleBaseline": "top", "titlePadding": 6, "tickSize": 5, "labelPadding": 3, "grid": true}}
          }
        },
        {
          "mark": {"type": "line", "color": "orange", "strokeWidth": 2},
          "encoding": {
            "x": {"field": "i", "type": "quantitative"},
            "y": {"field": "d", "type": "quantitative", "axis": {"orient": "right"}}
          }
        },
        {
          "data": {"values": [{}]},
          "mark": {"type": "rule", "color": "#999999", "strokeWidth": 1, "strokeDash": [1.5, 2]},
          "encoding": {"x": {"datum": 0}, "x2": {"datum": 105}, "y": {"datum": 80}}
        },
        {
          "data": {"values": [{}]},
          "mark": {"type": "rule", "color": "#999999", "strokeWidth": 1, "strokeDash": [1.5, 2]},
          "encoding": {"x": {"datum": 0}, "x2": {"datum": 105}, "y": {"datum": 20}}
        }
      ]
    },
    {
      "width": 1073,
      "height": 132,
      "layer": [
        {
          "mark": {"type": "bar", "width": 6},
          "encoding": {
            "x": {"field": "i", "type": "quantitative", "scale": {"domain": [-6.4, 111.4], "nice": false, "zero": false},
                  "axis": {"values": [0, 20, 40, 60, 80, 100], "title": null, "grid": true, "ticks": true, "tickSize": 5,
                           "labelExpr": "datum.value == 0 ? '2026-03-30' : datum.value == 20 ? '2026-04-29' : datum.value == 40 ? '2026-05-28' : datum.value == 60 ? '2026-06-26' : datum.value == 80 ? '2026-07-24' : '2026-08-21'",
                           "labelAngle": -45, "labelAlign": "right", "labelBaseline": "top", "labelPadding": 2}},
            "y": {"field": "hist", "type": "quantitative", "scale": {"domain": [-34.3, 60], "nice": false, "zero": false},
                  "axis": {"orient": "right", "values": [-25, 0, 25, 50], "title": "MACD", "titleAngle": 270, "titleBaseline": "top", "titlePadding": 6, "tickSize": 5, "labelPadding": 3, "grid": true}},
            "y2": {"datum": 0},
            "color": {"condition": {"test": "datum.hist >= 0", "value": "#ff4d4d"}, "value": "#4ca64c"}
          }
        },
        {
          "data": {"values": [{}]},
          "mark": {"type": "rule", "color": "#808080", "strokeWidth": 1, "strokeDash": [4, 2]},
          "encoding": {"x": {"datum": -0.4}, "x2": {"datum": 105.4}, "y": {"datum": 0}}
        },
        {
          "mark": {"type": "line", "color": "blue", "strokeWidth": 1.5},
          "encoding": {
            "x": {"field": "i", "type": "quantitative"},
            "y": {"field": "dif", "type": "quantitative", "axis": {"orient": "right"}}
          }
        },
        {
          "mark": {"type": "line", "color": "orange", "strokeWidth": 1.5},
          "encoding": {
            "x": {"field": "i", "type": "quantitative"},
            "y": {"field": "dea", "type": "quantitative", "axis": {"orient": "right"}}
          }
        }
      ]
    }
  ]
}
